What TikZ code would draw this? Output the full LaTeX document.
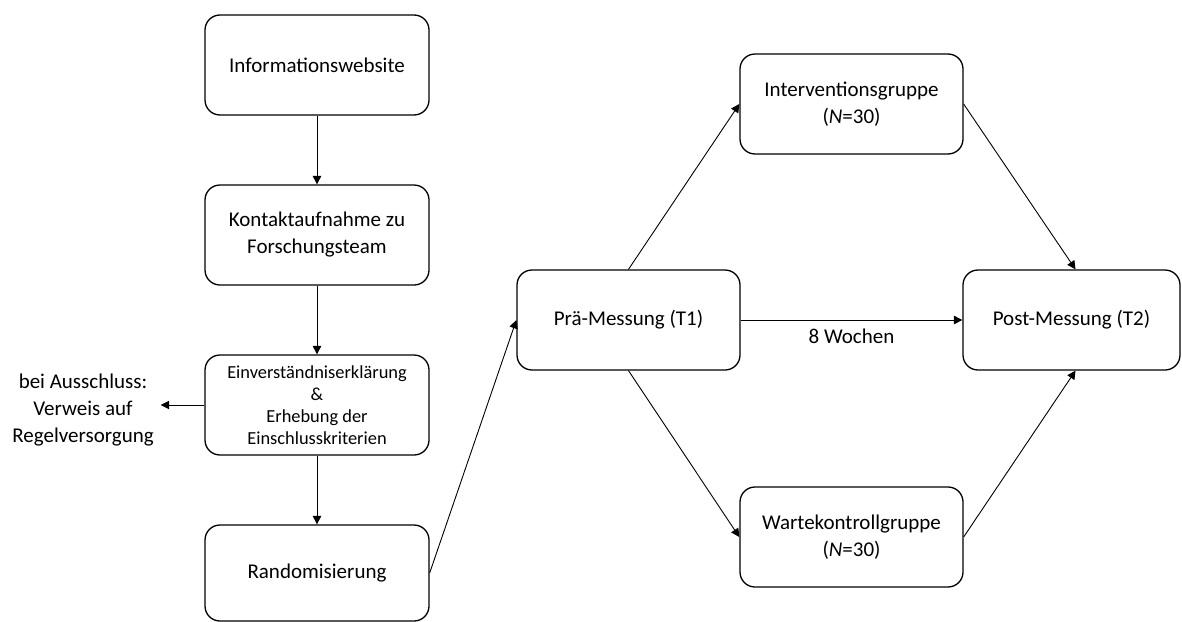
\documentclass[tikz,border=0pt]{standalone}
\usepackage{fontspec}
\setmainfont{Carlito}
\usetikzlibrary{arrows.meta,calc}
\begin{document}
\begin{tikzpicture}[x=0.5pt,y=-0.5pt,
  box/.style={draw,line width=0.65pt,rounded corners=7.5pt,align=center,
    minimum width=112pt,minimum height=50pt,inner sep=0pt,
    font=\fontsize{10.5}{13.5}\selectfont},
  smallbox/.style={box,font=\fontsize{9.2}{11}\selectfont},
  conn/.style={line width=0.45pt,-{Triangle[width=4.2pt,length=4.2pt]}},
  lbl/.style={align=center,font=\fontsize{10.5}{13.5}\selectfont}]
\useasboundingbox (0,0) rectangle (1182,621);
\clip (0,0) rectangle (1182,621);
\node[box] (info) at (317,65) {Informationswebsite};
\node[box] (kontakt) at (317,235) {Kontaktaufnahme zu\\Forschungsteam};
\node[smallbox] (einv) at (317,405) {Einverständniserklärung\\\&\\Erhebung der\\Einschlusskriterien};
\node[box,minimum height=48pt] (rand) at (317,573) {Randomisierung};
\node[box,minimum width=111.5pt] (pre) at (628.5,320) {Prä-Messung (T1)};
\node[box,minimum width=111.5pt] (interv) at (851.5,104) {Interventionsgruppe\\(\textit{N}=30)};
\node[box,minimum width=111.5pt] (wart) at (851.5,537) {Wartekontrollgruppe\\(\textit{N}=30)};
\node[box,minimum width=108.5pt] (post) at (1071.5,320) {Post-Messung (T2)};
\node[lbl] (excl) at (83,410) {bei Ausschluss:\\Verweis auf\\Regelversorgung};
\draw[conn] (info) -- (kontakt);
\draw[conn] (kontakt) -- (einv);
\draw[conn] (einv) -- (rand);
\draw[conn] (einv.west) -- (einv.west -| excl.east);
\draw[conn] (rand.east) -- (pre.west);
\draw[conn] (pre.north) -- (interv.west);
\draw[conn] (pre.south) -- (wart.west);
\draw[conn] (pre.east) -- node[lbl,below=1pt] (wochen) {8 Wochen} (post.west);
\draw[conn] (interv.east) -- ($(post.north)+(4,0)$);
\draw[conn] (wart.east) -- ($(post.south)+(4,0)$);
\end{tikzpicture}
\end{document}
